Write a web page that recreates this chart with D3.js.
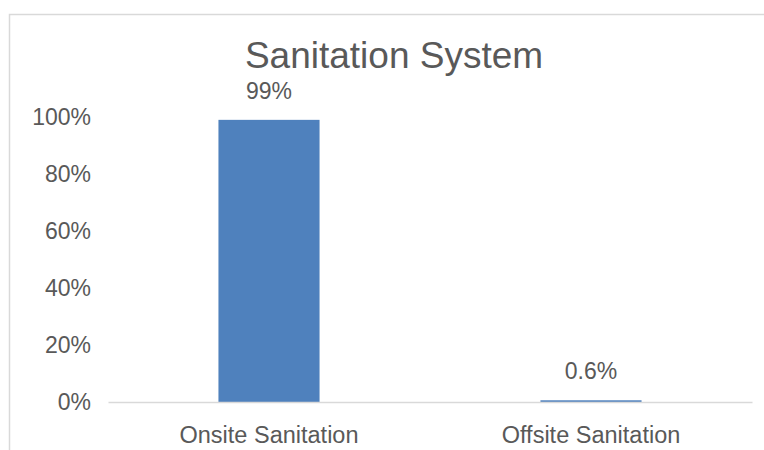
<!DOCTYPE html>
<html>
<head>
<meta charset="utf-8">
<script src="https://cdn.jsdelivr.net/npm/d3@7"></script>
<style>
  body { margin: 0; background: #fff; }
  text { font-family: "Liberation Sans", Arial, sans-serif; fill: #595959; }
</style>
</head>
<body>
<div id="chart-area"></div>
<script>
// chart data
const categories = ["Onsite Sanitation", "Offsite Sanitation"];
const shares = [0.99, 0.006];
const shareLabels = ["99%", "0.6%"];
const yTicks = [0, 0.2, 0.4, 0.6, 0.8, 1.0];

let width = 764, height = 450;
let margin = {top: 117, right: 12, bottom: 48, left: 108};

let svg = d3.select("#chart-area").append("svg")
    .attr("width", width)
    .attr("height", height);

// chart frame (cropped on right/bottom like the screenshot)
svg.append("rect")
    .attr("x", 9.5)
    .attr("y", 14.5)
    .attr("width", width + 20)
    .attr("height", height + 20)
    .attr("fill", "none")
    .attr("stroke", "#d9d9d9")
    .attr("stroke-width", 1.5);

let x = d3.scaleBand()
    .domain(categories)
    .range([margin.left, width - margin.right])
    .paddingInner(0.686)
    .paddingOuter(0.343);

let y = d3.scaleLinear()
    .domain([0, 1])
    .range([402, margin.top]);

// title
svg.append("text")
    .attr("x", 394)
    .attr("y", 68)
    .attr("text-anchor", "middle")
    .style("font-size", "37px")
    .text("Sanitation System");

// y axis labels (no line)
let yAxis = d3.axisLeft(y)
    .tickValues(yTicks)
    .tickFormat(d3.format(".0%"))
    .tickSize(0)
    .tickPadding(0);

let gy = svg.append("g")
    .attr("transform", "translate(91,0)")
    .call(yAxis);
gy.select(".domain").remove();
gy.selectAll("text")
    .attr("fill", "#595959")
    .style("font-size", "23px")
    .style("font-family", "'Liberation Sans', Arial, sans-serif");

// bars
svg.selectAll(".bar")
    .data(shares)
    .enter().append("rect")
    .attr("class", "bar")
    .attr("x", (d, i) => x(categories[i]))
    .attr("y", d => y(d))
    .attr("width", x.bandwidth())
    .attr("height", d => y(0) - y(d))
    .attr("fill", "#4f81bd");

// baseline / x axis
let xAxis = d3.axisBottom(x).tickSize(0).tickPadding(0);
let gx = svg.append("g")
    .attr("transform", "translate(0," + y(0) + ")")
    .call(xAxis);
gx.select(".domain")
    .attr("stroke", "#d9d9d9")
    .attr("stroke-width", 1.5);
gx.selectAll("text")
    .attr("fill", "#595959")
    .attr("dy", 0)
    .attr("y", 41)
    .style("font-size", "23.5px")
    .style("font-family", "'Liberation Sans', Arial, sans-serif");

// data labels
svg.selectAll(".value-label")
    .data(shares)
    .enter().append("text")
    .attr("class", "value-label")
    .attr("x", (d, i) => x(categories[i]) + x.bandwidth() / 2)
    .attr("y", d => y(d) - 21)
    .attr("text-anchor", "middle")
    .style("font-size", "23px")
    .text((d, i) => shareLabels[i]);
</script>
</body>
</html>
